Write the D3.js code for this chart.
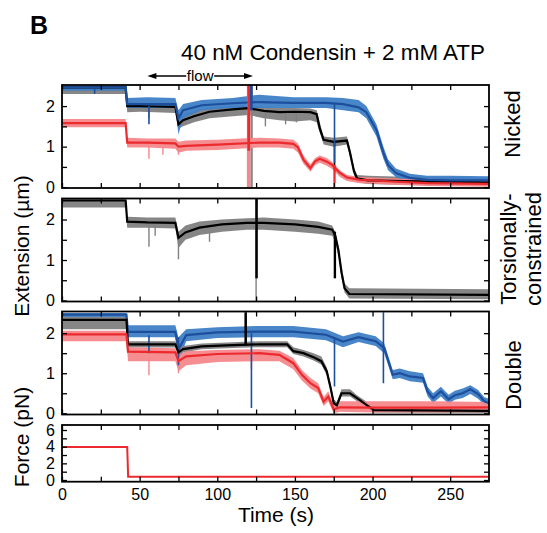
<!DOCTYPE html>
<html><head><meta charset="utf-8">
<script src="https://cdn.jsdelivr.net/npm/d3@7"></script>
<style>
body{margin:0;background:#fff}
svg{display:block}
text{font-family:"Liberation Sans",Arial,Helvetica,sans-serif;fill:#000}
</style>
</head><body>
<svg id="c" width="547" height="533"></svg>
<script>
// ---------------- DATA ----------------
// each row: [time (s), mean extension, band low, band high]
const nickedBlack = [
 [0,2.46,2.30,2.49],[41,2.46,2.30,2.49],[42,2.0,1.85,2.1],[50,2.0,1.86,2.08],[60,1.99,1.85,2.07],
 [73,1.98,1.83,2.06],[75,1.55,1.45,1.7],[78,1.65,1.5,1.8],[85,1.75,1.6,1.88],[95,1.86,1.7,1.97],
 [110,1.92,1.75,2.0],[120,1.95,1.78,2.02],[130,1.88,1.7,1.98],[140,1.85,1.65,1.95],[150,1.86,1.62,1.95],
 [160,1.85,1.65,1.94],[164,1.8,1.6,1.9],[166,1.45,1.35,1.6],[168.5,1.17,1.05,1.25],[175,1.12,1.0,1.22],
 [183.5,1.15,1.05,1.25],[185.5,0.85,0.75,0.95],[188,0.4,0.3,0.5],[190,0.22,0.12,0.3],[197,0.17,0.08,0.28],
 [220,0.15,0.06,0.26],[250,0.13,0.05,0.25],[275,0.12,0.05,0.22]
];
const nickedBlue = [
 [0,2.46,2.38,2.5],[41,2.46,2.38,2.5],[42,2.05,1.95,2.2],[55,2.05,1.95,2.22],[73,2.05,1.95,2.2],
 [75,1.7,1.3,1.9],[78,1.9,1.7,2.05],[90,2.02,1.9,2.15],[110,2.07,1.95,2.2],[127,2.1,1.95,2.28],
 [149,2.08,1.95,2.22],[170,2.08,1.95,2.22],[181,2.05,1.9,2.2],[191,1.97,1.85,2.15],[196,1.85,1.7,2.0],
 [202.5,1.41,1.25,1.55],[207,0.84,0.7,1.0],[210,0.55,0.42,0.68],[215,0.35,0.25,0.46],[224,0.23,0.12,0.33],
 [235,0.18,0.08,0.28],[250,0.17,0.08,0.28],[275,0.17,0.08,0.27]
];
const nickedRed = [
 [0,1.58,1.48,1.68],[41,1.58,1.48,1.68],[42,1.1,0.98,1.22],[55,1.1,0.98,1.2],[73,1.08,0.95,1.2],
 [75,1.0,0.85,1.12],[80,1.02,0.9,1.15],[100,1.05,0.92,1.17],[127,1.1,0.98,1.22],[140,1.1,0.98,1.2],
 [149,1.07,0.95,1.17],[152,0.98,0.85,1.08],[155.5,0.68,0.58,0.78],[160,0.47,0.38,0.56],[163,0.64,0.55,0.72],
 [166,0.7,0.6,0.78],[170.5,0.63,0.53,0.72],[174,0.55,0.45,0.62],[179,0.35,0.25,0.42],[183.5,0.24,0.15,0.3],
 [192,0.18,0.1,0.25],[213,0.14,0.06,0.22],[235,0.1,0.03,0.18],[275,0.08,0.01,0.16]
];
const torsionalBlack = [
 [0,2.47,2.3,2.5],[41,2.47,2.3,2.5],[42,1.95,1.8,2.07],[55,1.93,1.8,2.05],[73,1.92,1.78,2.05],
 [75,1.55,1.3,1.7],[79.5,1.68,1.5,1.85],[88.5,1.8,1.62,1.95],[103,1.88,1.7,2.0],[119,1.92,1.75,2.03],
 [130,1.92,1.75,2.05],[150,1.88,1.7,2.0],[165,1.82,1.65,1.95],[174,1.75,1.6,1.85],[176,1.6,1.45,1.7],
 [178,1.25,1.1,1.35],[180,0.7,0.55,0.85],[182,0.3,0.2,0.42],[185,0.16,0.05,0.3],[275,0.14,0.03,0.28]
];
const doubleBlue = [
 [0,2.46,2.4,2.5],[41.5,2.46,2.4,2.5],[42.5,2.03,1.9,2.2],[73,2.03,1.9,2.2],[75,1.6,1.3,1.9],
 [80,1.95,1.8,2.1],[100,2.02,1.88,2.15],[127,2.04,1.9,2.18],[149,2.04,1.9,2.18],[170,1.96,1.82,2.1],
 [181,1.79,1.65,1.92],[191,1.9,1.78,2.02],[202,1.8,1.68,1.92],[207.5,1.63,1.5,1.75],[213,0.96,0.85,1.08],
 [217.5,1.0,0.88,1.12],[224,0.92,0.8,1.05],[232.5,0.88,0.76,1.0],[235.5,0.54,0.42,0.66],[239,0.38,0.26,0.5],
 [244,0.55,0.42,0.66],[249,0.35,0.24,0.46],[253,0.45,0.34,0.56],[258,0.5,0.38,0.62],[263,0.6,0.48,0.7],
 [268,0.48,0.36,0.58],[272,0.3,0.2,0.4],[275,0.25,0.15,0.36]
];
const doubleBlack = [
 [0,2.33,2.1,2.4],[41.5,2.33,2.1,2.4],[42.5,1.72,1.64,1.8],[73,1.72,1.64,1.8],[75,1.52,1.4,1.6],
 [78,1.6,1.52,1.68],[90,1.67,1.6,1.74],[110,1.7,1.63,1.77],[127,1.72,1.65,1.8],[145,1.72,1.65,1.8],
 [149,1.55,1.48,1.65],[155.5,1.5,1.42,1.58],[162,1.4,1.32,1.5],[167,1.3,1.22,1.42],[170.5,1.05,0.95,1.15],
 [173,0.63,0.55,0.75],[175,0.25,0.18,0.35],[177,0.2,0.12,0.28],[180,0.5,0.42,0.6],[185.5,0.5,0.42,0.6],
 [190,0.38,0.3,0.45],[196.5,0.2,0.12,0.28],[201,0.08,0.02,0.14],[275,0.06,0.01,0.12]
];
const doubleRed = [
 [0,1.97,1.8,2.06],[41.5,1.97,1.8,2.06],[42.5,1.54,1.3,1.65],[73,1.52,1.3,1.62],[75,1.3,1.05,1.45],
 [80,1.42,1.2,1.55],[100,1.48,1.28,1.58],[127,1.5,1.3,1.6],[140,1.46,1.3,1.56],[149,1.25,1.1,1.38],
 [154.5,0.96,0.82,1.08],[160,0.75,0.62,0.88],[165,0.63,0.5,0.75],[168.5,0.29,0.18,0.4],[171.5,0.42,0.3,0.55],
 [175,0.1,0.0,0.2],[179,0.15,0.04,0.3],[200,0.14,0.02,0.3],[240,0.14,0.02,0.3],[275,0.15,0.03,0.28]
];
// transient excursions: [time, low, high, dark (1) or light (0)]
const nickedBlackSpikes = [[56,1.7,2.0,0],[121.8,-0.02,2.52,0],[122.4,-0.02,2.52,0],[131,1.5,1.85,0],[144,1.55,1.85,0],[151,1.6,1.85,0],[175.5,0.1,1.12,1]];
const nickedBlueSpikes = [[21,2.3,2.45,1],[56,1.55,2.0,1],[121.6,1.9,2.52,1],[122.3,1.9,2.52,1],[175.5,0.6,2.05,1]];
const nickedRedSpikes = [[56,0.7,1.05,0],[65,0.8,1.0,0],[75,0.8,1.0,0],[119.5,-0.02,2.52,0],[120.2,-0.02,2.52,0],[120.9,-0.02,2.52,0],[119.9,0.9,2.52,1],[120.6,0.9,2.52,1],[175.5,-0.02,0.55,1]];
const torsionalBlackSpikes = [[56,1.33,1.9,0],[60,1.6,1.85,0],[75,1.02,1.5,0],[95,1.45,1.7,0],[125,-0.02,2.52,0],[125,0.55,2.52,1],[125.6,0.55,2.52,1],[175.5,0.55,1.7,1],[176,0.55,1.7,1]];
const doubleBlueSpikes = [[56,1.5,1.95,1],[75,1.2,1.9,1],[122,0.13,2.0,1],[175.5,0.67,1.9,1],[207,0.75,2.52,1]];
const doubleBlackSpikes = [[118,1.7,2.52,1],[118.6,1.7,2.52,1]];
const doubleRedSpikes = [[56,0.95,1.4,0],[75,1.0,1.3,0],[122,1.1,1.4,0]];
// force (pN) vs time (s)
const forceTrace = [[0,3.95],[42,3.95],[42.6,0.4],[275,0.4]];
// tick values
const timeTicks = [0,25,50,75,100,125,150,175,200,225,250];
const timeLabels = [0,50,100,150,200,250];
const extTicks = [0,0.5,1,1.5,2];
const extLabels = [0,1,2];
const forceTicks = [0,1,2,3,4,5,6];
const forceLabels = [0,2,4,6];
const flowRange = [55,123];

// ---------------- DRAWING ----------------
const C = {
  black:{line:"#000000", band:"#808080"},
  blue:{line:"#1d4f9c", band:"#3f7fc6"},
  red:{line:"#ec2a2e", band:"#f4878b"}
};
const svg = d3.select("#c");
const x = d3.scaleLinear().domain([0,275]).range([62,489]);

const panels = [
 {top:85,bottom:188,domain:[-0.02,2.52],traces:[
   {d:nickedBlack,c:"black",s:nickedBlackSpikes},{d:nickedBlue,c:"blue",s:nickedBlueSpikes},{d:nickedRed,c:"red",s:nickedRedSpikes}]},
 {top:198.5,bottom:301.5,domain:[-0.025,2.52],traces:[{d:torsionalBlack,c:"black",s:torsionalBlackSpikes}]},
 {top:311.5,bottom:414.5,domain:[-0.03,2.54],traces:[
   {d:doubleBlue,c:"blue",s:doubleBlueSpikes},{d:doubleBlack,c:"black",s:doubleBlackSpikes},{d:doubleRed,c:"red",s:doubleRedSpikes}]}
];

function frameAndTicks(g, y, top, bottom, yTicks, yLabels){
  const H = bottom-top;
  g.append("g").attr("transform",`translate(0,${bottom})`)
    .call(d3.axisBottom(x).tickValues(timeTicks).tickSize(-5).tickFormat(""));
  g.append("g").attr("transform",`translate(0,${top})`)
    .call(d3.axisTop(x).tickValues(timeTicks).tickSize(-5).tickFormat(""));
  g.append("g").attr("transform",`translate(${x.range()[0]},0)`)
    .call(d3.axisLeft(y).tickValues(yTicks).tickSize(-5).tickFormat(""));
  g.append("g").attr("transform",`translate(${x.range()[1]},0)`)
    .call(d3.axisRight(y).tickValues(yTicks).tickSize(-5).tickFormat(""));
  g.append("g").attr("transform",`translate(${x.range()[0]},0)`)
    .call(d3.axisLeft(y).tickValues(yLabels).tickSize(0).tickPadding(7).tickFormat(d3.format("d")))
    .call(a=>a.selectAll("text").style("font-size","16px"));
  g.selectAll(".domain").remove();
  g.selectAll(".tick line").attr("stroke","#000").attr("stroke-width",1.3);
  g.append("rect").attr("x",x.range()[0]).attr("y",top).attr("width",x.range()[1]-x.range()[0]).attr("height",H)
    .attr("fill","none").attr("stroke","#000").attr("stroke-width",1.8);
}

panels.forEach((p,i)=>{
  const y = d3.scaleLinear().domain(p.domain).range([p.bottom,p.top]);
  const g = svg.append("g");
  const cid = "clip"+i;
  svg.append("clipPath").attr("id",cid).append("rect")
    .attr("x",x.range()[0]).attr("y",p.top).attr("width",x.range()[1]-x.range()[0]).attr("height",p.bottom-p.top);
  const dg = g.append("g").attr("clip-path",`url(#${cid})`);
  const area = d3.area().x(d=>x(d[0])).y0(d=>y(d[2])).y1(d=>y(d[3]));
  const line = d3.line().x(d=>x(d[0])).y(d=>y(d[1]));
  // bands
  p.traces.forEach(t=>{
    dg.append("path").datum(t.d).attr("d",area).attr("fill",C[t.c].band).attr("opacity",0.95);
    dg.selectAll(null).data(t.s.filter(s=>!s[3])).enter().append("line")
      .attr("x1",s=>x(s[0])).attr("x2",s=>x(s[0])).attr("y1",s=>y(s[1])).attr("y2",s=>y(s[2]))
      .attr("stroke",C[t.c].band).attr("stroke-width",1.4);
  });
  // mean lines
  p.traces.forEach(t=>{
    dg.append("path").datum(t.d).attr("d",line).attr("fill","none").attr("stroke",C[t.c].line).attr("stroke-width",2.2);
    dg.selectAll(null).data(t.s.filter(s=>s[3])).enter().append("line")
      .attr("x1",s=>x(s[0])).attr("x2",s=>x(s[0])).attr("y1",s=>y(s[1])).attr("y2",s=>y(s[2]))
      .attr("stroke",C[t.c].line).attr("stroke-width",1.6);
  });
  frameAndTicks(g,y,p.top,p.bottom,extTicks,extLabels);
});

// force panel
{
  const top=425,bottom=481.7;
  const y = d3.scaleLinear().domain([-0.2,6.6]).range([bottom,top]);
  const g = svg.append("g");
  g.append("path").datum(forceTrace)
    .attr("d",d3.line().x(d=>x(d[0])).y(d=>y(d[1])))
    .attr("fill","none").attr("stroke",C.red.line).attr("stroke-width",2);
  frameAndTicks(g,y,top,bottom,forceTicks,forceLabels);
  g.append("g").attr("transform",`translate(0,${bottom})`)
    .call(d3.axisBottom(x).tickValues(timeLabels).tickSize(0).tickPadding(7).tickFormat(d3.format("d")))
    .call(a=>a.select(".domain").remove())
    .call(a=>a.selectAll("text").style("font-size","16px"));
}

// flow arrow
{
  const ay = 76, x0 = x(flowRange[0]), x1 = x(flowRange[1]), xm = (x0+x1)/2;
  const g = svg.append("g");
  g.append("line").attr("x1",x0+6).attr("x2",xm-14).attr("y1",ay).attr("y2",ay).attr("stroke","#000").attr("stroke-width",1.5);
  g.append("line").attr("x1",xm+14).attr("x2",x1-6).attr("y1",ay).attr("y2",ay).attr("stroke","#000").attr("stroke-width",1.5);
  g.append("path").attr("d",`M${x0},${ay}L${x0+9},${ay-3}L${x0+9},${ay+3}Z`).attr("fill","#000");
  g.append("path").attr("d",`M${x1},${ay}L${x1-9},${ay-3}L${x1-9},${ay+3}Z`).attr("fill","#000");
  g.append("text").attr("x",xm).attr("y",81).attr("text-anchor","middle").style("font-size","15px").text("flow");
}

// text labels
svg.append("text").attr("x",30).attr("y",34).style("font-size","25px").style("font-weight","bold").text("B");
svg.append("text").attr("x",181).attr("y",60).style("font-size","22.5px")
  .attr("textLength",304).attr("lengthAdjust","spacingAndGlyphs").text("40 nM Condensin + 2 mM ATP");
svg.append("text").attr("transform","translate(29,246) rotate(-90)").attr("text-anchor","middle").style("font-size","21px").text("Extension (µm)");
svg.append("text").attr("transform","translate(29,437) rotate(-90)").attr("text-anchor","middle").style("font-size","21px").text("Force (pN)");
svg.append("text").attr("x",276).attr("y",522).attr("text-anchor","middle").style("font-size","21px").text("Time (s)");
svg.append("text").attr("transform","translate(520,124) rotate(-90)").attr("text-anchor","middle").style("font-size","22px").text("Nicked");
svg.append("text").attr("transform","translate(516,249) rotate(-90)").attr("text-anchor","middle").style("font-size","22px").text("Torsionally-");
svg.append("text").attr("transform","translate(541,249) rotate(-90)").attr("text-anchor","middle").style("font-size","22px").text("constrained");
svg.append("text").attr("transform","translate(521,375) rotate(-90)").attr("text-anchor","middle").style("font-size","22px").text("Double");
</script>
</body></html>
